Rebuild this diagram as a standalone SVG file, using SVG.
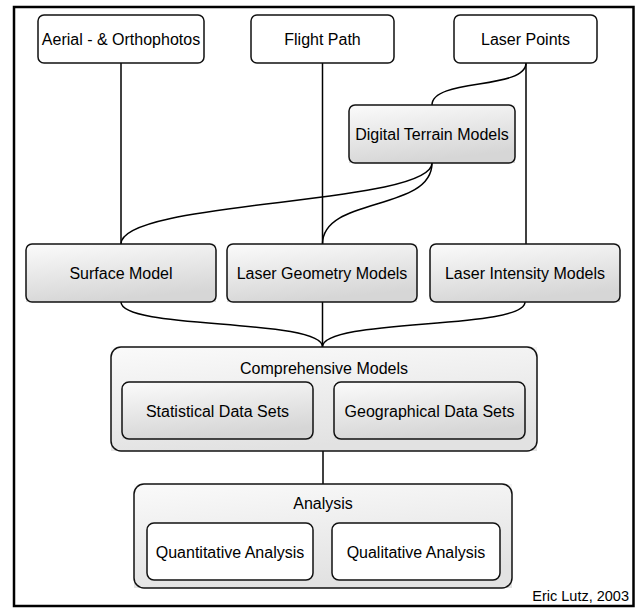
<svg xmlns="http://www.w3.org/2000/svg" width="637" height="608" viewBox="0 0 637 608">
  <defs>
    <linearGradient id="g1" x1="0" y1="0" x2="0.3" y2="1">
      <stop offset="0" stop-color="#fbfbfb"/>
      <stop offset="1" stop-color="#d6d6d6"/>
    </linearGradient>
    <linearGradient id="g2" x1="0" y1="0" x2="0.3" y2="1">
      <stop offset="0" stop-color="#fafafa"/>
      <stop offset="1" stop-color="#e2e2e2"/>
    </linearGradient>
  </defs>
  <style>
    .box { fill: #ffffff; stroke: #111; stroke-width: 1.5; }
    .gbox { fill: none; stroke: #111; stroke-width: 1.5; }
    .gfill { fill: url(#g1); }
    .ofill { fill: url(#g2); }
    .lbl { font-family: "Liberation Sans", Arial, sans-serif; font-size: 16px; fill: #000; text-anchor: middle; }
    .conn { fill: none; stroke: #000; stroke-width: 1.5; }
  </style>
  <rect x="0" y="0" width="637" height="608" fill="#ffffff"/>
  <rect id="frame" x="14" y="7" width="619.5" height="599" fill="none" stroke="#000" stroke-width="2.5"/>

  <g id="connectors">
    <path class="conn" d="M121,63 L121,244"/>
    <path class="conn" d="M322.5,63 L322.5,244"/>
    <path class="conn" d="M526,63 L526,244"/>
    <path class="conn" d="M526,63 C526,90 432,78 432,105"/>
    <path class="conn" d="M432,163 C432,205 121,200 121,244"/>
    <path class="conn" d="M432,163 C432,212 322.5,196 322.5,244"/>
    <path class="conn" d="M121,302 C121,330 322.5,318 322.5,347"/>
    <path class="conn" d="M322.5,302 L322.5,347"/>
    <path class="conn" d="M525,302 C525,330 322.5,318 322.5,347"/>
    <path class="conn" d="M323,451 L323,484"/>
  </g>

  <g id="aerial">
    <rect class="box" x="38" y="15" width="166" height="48" rx="6"/>
    <text class="lbl" x="121" y="45">Aerial - &amp; Orthophotos</text>
  </g>
  <g id="flight-path">
    <rect class="box" x="251" y="15" width="143" height="48" rx="6"/>
    <text class="lbl" x="322.5" y="45">Flight Path</text>
  </g>
  <g id="laser-points">
    <rect class="box" x="454" y="15" width="143" height="48" rx="6"/>
    <text class="lbl" x="525.5" y="45">Laser Points</text>
  </g>
  <g id="dtm">
    <rect class="gfill" x="349" y="105" width="166" height="58"/>
    <rect class="gbox" x="349" y="105" width="166" height="58" rx="6"/>
    <text class="lbl" x="432" y="140">Digital Terrain Models</text>
  </g>
  <g id="surface-model">
    <rect class="gfill" x="26" y="244" width="190" height="58"/>
    <rect class="gbox" x="26" y="244" width="190" height="58" rx="6"/>
    <text class="lbl" x="121" y="279">Surface Model</text>
  </g>
  <g id="laser-geometry">
    <rect class="gfill" x="227" y="244" width="190" height="58"/>
    <rect class="gbox" x="227" y="244" width="190" height="58" rx="6"/>
    <text class="lbl" x="322" y="279">Laser Geometry Models</text>
  </g>
  <g id="laser-intensity">
    <rect class="gfill" x="430" y="244" width="190" height="58"/>
    <rect class="gbox" x="430" y="244" width="190" height="58" rx="6"/>
    <text class="lbl" x="525" y="279">Laser Intensity Models</text>
  </g>
  <g id="comprehensive">
    <rect class="ofill" x="111" y="347" width="426" height="104"/>
    <rect class="gbox" x="111" y="347" width="426" height="104" rx="10"/>
    <text class="lbl" x="324" y="374">Comprehensive Models</text>
  </g>
  <g id="statistical">
    <rect class="gfill" x="122" y="382" width="191" height="57"/>
    <rect class="gbox" x="122" y="382" width="191" height="57" rx="7"/>
    <text class="lbl" x="217.5" y="417">Statistical Data Sets</text>
  </g>
  <g id="geographical">
    <rect class="gfill" x="334" y="382" width="191" height="57"/>
    <rect class="gbox" x="334" y="382" width="191" height="57" rx="7"/>
    <text class="lbl" x="429.5" y="417">Geographical Data Sets</text>
  </g>
  <g id="analysis">
    <rect class="ofill" x="134" y="484" width="378" height="104"/>
    <rect class="gbox" x="134" y="484" width="378" height="104" rx="10"/>
    <text class="lbl" x="323" y="509">Analysis</text>
  </g>
  <g id="quantitative">
    <rect class="box" x="147" y="523" width="166" height="57" rx="7"/>
    <text class="lbl" x="230" y="558">Quantitative Analysis</text>
  </g>
  <g id="qualitative">
    <rect class="box" x="332" y="523" width="168" height="57" rx="7"/>
    <text class="lbl" x="416" y="558">Qualitative Analysis</text>
  </g>
  <text x="629" y="601" font-family="'Liberation Sans', Arial, sans-serif" font-size="14.5" text-anchor="end" fill="#000">Eric Lutz, 2003</text>
</svg>
